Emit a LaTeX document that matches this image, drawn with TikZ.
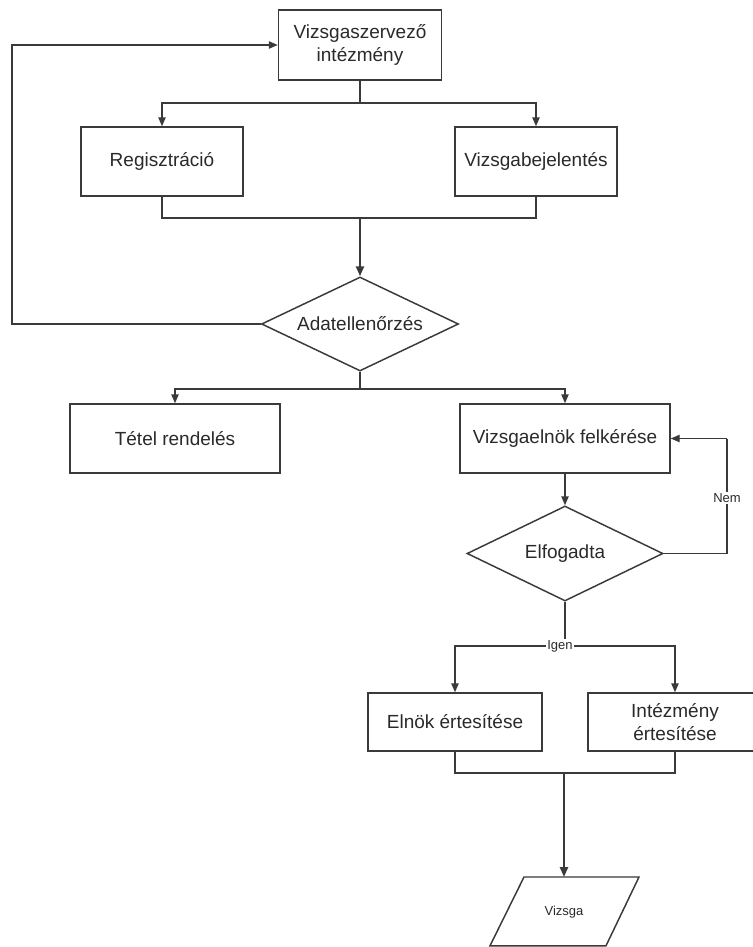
\documentclass[tikz,border=0pt]{standalone}
\usepackage{fontspec}
\setmainfont{Liberation Sans}
\usetikzlibrary{arrows.meta,shapes.geometric}
\definecolor{ln}{HTML}{3A3A3A}
\definecolor{tx}{HTML}{2A2A2A}
\begin{document}
\begin{tikzpicture}[x=0.75pt,y=-0.75pt,
  box/.style={draw=ln, line width=1.1pt, rectangle, inner sep=0pt, align=center, text=tx,
    font=\fontsize{14.25}{16.9}\selectfont},
  dia/.style={draw=ln, line width=1.1pt, diamond, aspect=2.1, inner sep=0pt, align=center, text=tx,
    font=\fontsize{14.25}{16.9}\selectfont},
  conn/.style={draw=ln, line width=1.1pt},
  arr/.style={conn, -{Triangle[length=6.75pt,width=5.5pt]}},
  thickarr/.style={draw=ln, line width=1.8pt, -{Triangle[length=7.5pt,width=6pt]}},
  lbl/.style={fill=white, inner sep=1pt, text=tx, font=\fontsize{9.75}{11}\selectfont}]
\useasboundingbox (0,0) rectangle (753,947);
\fill[white] (0,0) rectangle (753,947);
\clip (0,0) rectangle (753,947);

% nodes
\node[box, minimum width=122.25pt, minimum height=52.5pt] (org) at (360,45) {Vizsgaszervező\\intézmény};
\node[box, minimum width=121.5pt, minimum height=51.75pt] (reg) at (162,161.5) {Regisztráció};
\node[box, minimum width=121.5pt, minimum height=51.75pt] (bej) at (536,161.5) {Vizsgabejelentés};
\node[dia, minimum width=147.75pt, minimum height=70.5pt] (adat) at (360,324) {Adatellenőrzés};
\node[box, minimum width=157.5pt, minimum height=51.75pt] (tetel) at (175,438.5) {Tétel rendelés};
\node[box, minimum width=157.5pt, minimum height=51.75pt] (elnokf) at (565,438.5) {Vizsgaelnök felkérése};
\node[dia, minimum width=147pt, minimum height=71.25pt] (elf) at (565,553.5) {Elfogadta};
\node[box, minimum width=130.5pt, minimum height=43.5pt] (elnert) at (455,722) {Elnök értesítése};
\node[box, minimum width=130.5pt, minimum height=43.5pt] (intert) at (675,722) {Intézmény\\értesítése};

% output parallelogram
\coordinate (vz) at (564,877);
\draw[draw=ln, line width=1.1pt, line join=miter] (524,877) -- (639,877) -- (606,945.8) -- (490,945.8) -- cycle;
\node[text=tx, font=\fontsize{9.75}{11}\selectfont] (vizsga) at (564,912) {Vizsga};

% helper coordinates
\coordinate (lft) at (12,0);
\coordinate (s1) at (360,103);
\coordinate (m1) at (360,218);
\coordinate (s2) at (360,389);
\coordinate (nemx) at (727,0);
\coordinate (s3) at (565,646);
\coordinate (m2) at (564,773);

% connectors
\draw[arr] (adat.west) -- (lft |- adat.west) |- (org.west);
\draw[conn] (org.south) -- (s1);
\draw[arr] (s1) -| (reg.north);
\draw[arr] (s1) -| (bej.north);
\draw[conn] (reg.south) |- (m1) -| (bej.south);
\draw[thickarr] (m1) -- (adat.north);
\draw[conn] (adat.south) -- (s2);
\draw[arr] (s2) -| (tetel.north);
\draw[arr] (s2) -| (elnokf.north);
\draw[arr] (elnokf.south) -- (elf.north);
\draw[conn] (elf.east) -| (nemx |- elf.east) -- (nemx |- elnokf.east);
\draw[arr] (nemx |- elnokf.east) -- (elnokf.east);
\draw[conn] (elf.south) -- (s3);
\draw[arr] (s3) -| (elnert.north);
\draw[arr] (s3) -| (intert.north);
\draw[conn] (elnert.south) |- (m2) -| (intert.south);
\draw[thickarr] (m2) -- (vz);

% labels
\node[lbl] (nem) at (727,498) {Nem};
\node[lbl] (igen) at (560,646) {Igen};
\end{tikzpicture}
\end{document}
